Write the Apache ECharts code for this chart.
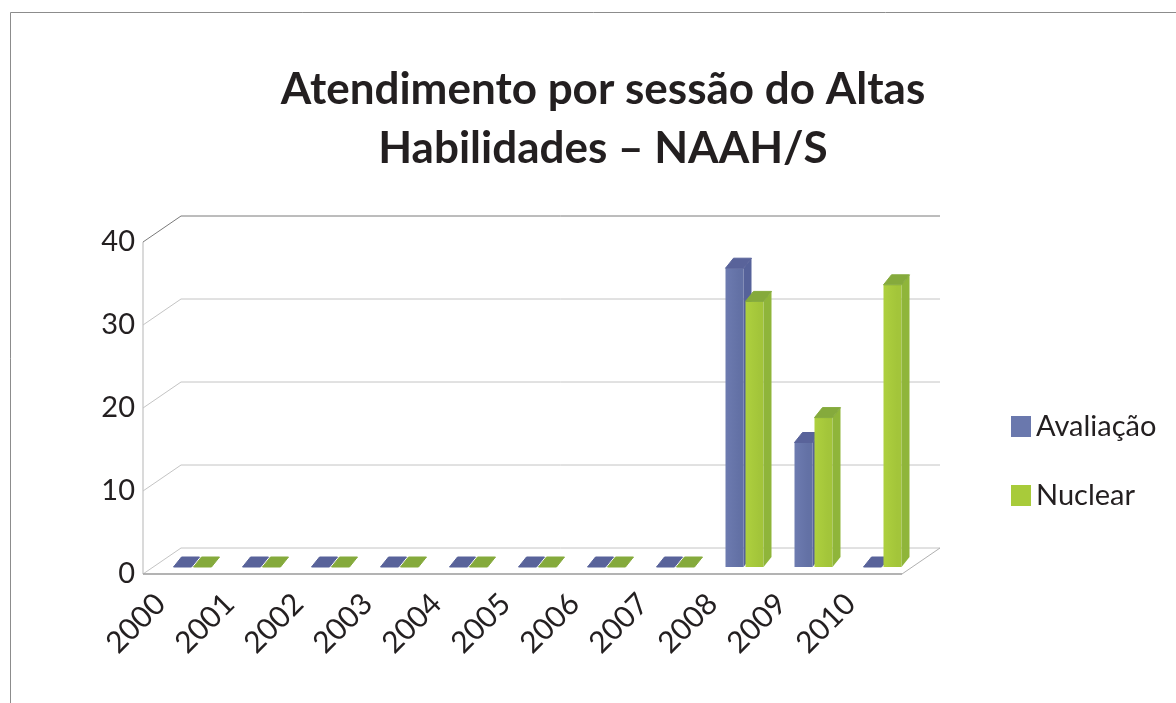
<!DOCTYPE html>
<html>
<head>
<meta charset="utf-8">
<title>Atendimento por sessão do Altas Habilidades – NAAH/S</title>
<script src="https://cdn.jsdelivr.net/npm/echarts@6/dist/echarts.min.js"></script>
<style>
  html, body { margin: 0; padding: 0; background: #fff; }
  #chart { width: 1176px; height: 703px; }
</style>
</head>
<body>
<div id="chart"></div>
<script>
// dados
const years = ['2000', '2001', '2002', '2003', '2004', '2005', '2006', '2007', '2008', '2009', '2010'];
const avaliacao = [0, 0, 0, 0, 0, 0, 0, 0, 36, 15, 0];
const nuclear = [0, 0, 0, 0, 0, 0, 0, 0, 32, 18, 34];
const yTicks = [0, 10, 20, 30, 40];

// profundidade do "3D"
const WALL_DX = 38, WALL_DY = -26;   // parede de fundo
const FLOOR_DX = 15, FLOOR_DY = -7;  // posição das colunas no piso
const BAR_W = 18, BAR_DX = 8, BAR_DY = -10;

const styles = {
  avaliacao: { front: ['#6d7bb0', '#6371a5'], side: '#56629a', top: '#59639a', offset: -19 },
  nuclear:   { front: ['#aed03e', '#a3c53a'], side: '#8fb53a', top: '#85aa3c', offset: 1 },
};

function barRenderer(st) {
  return function (params, api) {
    const i = api.value(0);
    const v = api.value(1);
    const base = api.coord([i, 0]);
    const top = api.coord([i, v]);
    const x0 = base[0] + FLOOR_DX + st.offset;
    const yb = base[1] + FLOOR_DY;
    const yt = top[1] + FLOOR_DY;
    const children = [];
    if (yb - yt > 0.5) {
      children.push({
        type: 'rect',
        shape: { x: x0, y: yt, width: BAR_W, height: yb - yt },
        style: {
          fill: new echarts.graphic.LinearGradient(0, 0, 1, 0, [
            { offset: 0, color: st.front[0] },
            { offset: 0.75, color: st.front[1] },
            { offset: 1, color: st.front[1] },
          ]),
        },
      });
      children.push({
        type: 'polygon',
        shape: { points: [[x0 + BAR_W, yt], [x0 + BAR_W + BAR_DX, yt + BAR_DY], [x0 + BAR_W + BAR_DX, yb + BAR_DY], [x0 + BAR_W, yb]] },
        style: { fill: st.side },
      });
    }
    children.push({
      type: 'polygon',
      shape: { points: [[x0, yt], [x0 + BAR_W, yt], [x0 + BAR_W + BAR_DX, yt + BAR_DY], [x0 + BAR_DX, yt + BAR_DY]] },
      style: { fill: st.top, stroke: st.top, lineWidth: 1 },
    });
    return { type: 'group', children };
  };
}

// paredes e piso: linhas de grade ligadas aos valores do eixo
function frameRenderer(params, api) {
  const v = api.value(0);
  const cs = params.coordSys;
  const p = api.coord([0, v]);
  const x0 = cs.x, w = cs.width, y = p[1];
  const isTop = v === yTicks[yTicks.length - 1];
  const gridColor = isTop ? '#7a7a7a' : '#c4c4c4';
  const children = [
    { type: 'line', shape: { x1: x0, y1: y, x2: x0 + WALL_DX, y2: y + WALL_DY }, style: { stroke: gridColor, lineWidth: 1 } },
    { type: 'line', shape: { x1: x0 + WALL_DX, y1: y + WALL_DY, x2: x0 + w + WALL_DX, y2: y + WALL_DY }, style: { stroke: gridColor, lineWidth: 1 } },
  ];
  if (v === 0) {
    children.push({ type: 'line', shape: { x1: x0, y1: y, x2: x0 + w, y2: y }, style: { stroke: '#9a9a9a', lineWidth: 1.5 } });
    children.push({ type: 'line', shape: { x1: x0 + w, y1: y, x2: x0 + w + WALL_DX, y2: y + WALL_DY }, style: { stroke: '#b0b0b0', lineWidth: 1 } });
    const yTop = api.coord([0, yTicks[yTicks.length - 1]])[1];
    children.push({ type: 'line', shape: { x1: x0, y1: y, x2: x0, y2: yTop }, style: { stroke: '#b5b5b5', lineWidth: 1 } });
  }
  return { type: 'group', children };
}

const chart = echarts.init(document.getElementById('chart'));
chart.setOption({
  backgroundColor: '#fff',
  animation: false,
  textStyle: { fontFamily: 'Lato' },
  graphic: [{
    type: 'rect',
    shape: { x: 10.5, y: 12.5, width: 1300, height: 800 },
    style: { fill: null, stroke: '#8c8c8c', lineWidth: 1 },
    silent: true,
  }],
  title: {
    text: 'Atendimento por sessão do Altas\nHabilidades – NAAH/S',
    left: 598,
    top: 55,
    textAlign: 'center',
    textStyle: { fontFamily: 'Lato', fontSize: 44, fontWeight: 'bold', color: '#231f20', lineHeight: 59 },
  },
  legend: {
    orient: 'vertical',
    left: 1006,
    top: 407,
    itemWidth: 20,
    itemHeight: 21,
    itemGap: 40,
    icon: 'rect',
    textStyle: { fontFamily: 'Lato', fontSize: 29, color: '#231f20' },
    data: ['Avaliação', 'Nuclear'],
  },
  grid: { left: 143, right: 274, top: 242, bottom: 129 },
  xAxis: {
    type: 'category',
    data: years,
    axisLine: { show: false },
    axisTick: { show: false },
    axisLabel: {
      interval: 0,
      rotate: 45,
      margin: 8,
      padding: [0, 24, 0, 0],
      fontFamily: 'Lato',
      fontSize: 30,
      color: '#231f20',
    },
  },
  yAxis: {
    type: 'value',
    min: 0,
    max: 40,
    interval: 10,
    axisLine: { show: false },
    axisTick: { show: false },
    splitLine: { show: false },
    axisLabel: { margin: 8, fontFamily: 'Lato', fontSize: 29, color: '#231f20', padding: [8, 0, 0, 0] },
  },
  series: [
    {
      name: 'frame',
      type: 'custom',
      silent: true,
      clip: false,
      renderItem: frameRenderer,
      data: yTicks.map(v => [v]),
      encode: { y: 0 },
      z: 1,
    },
    {
      name: 'Avaliação',
      type: 'custom',
      clip: false,
      color: '#6a78ad',
      renderItem: barRenderer(styles.avaliacao),
      data: avaliacao.map((v, i) => [i, v]),
      encode: { x: 0, y: 1 },
      z: 2,
    },
    {
      name: 'Nuclear',
      type: 'custom',
      clip: false,
      color: '#a8cb3a',
      renderItem: barRenderer(styles.nuclear),
      data: nuclear.map((v, i) => [i, v]),
      encode: { x: 0, y: 1 },
      z: 3,
    },
  ],
});
</script>
</body>
</html>
